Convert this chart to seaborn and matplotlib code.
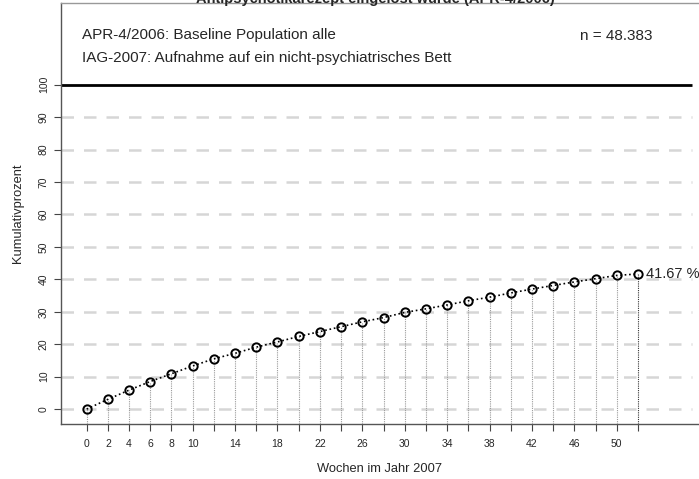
import matplotlib
matplotlib.use("Agg")
import matplotlib.pyplot as plt
import seaborn as sns
import numpy as np
import pandas as pd

weeks = [0, 2, 4, 6, 8, 10, 12, 14, 16, 18, 20, 22, 24, 26, 28, 30, 32, 34, 36,
         38, 40, 42, 44, 46, 48, 50, 52]
cum_pct = [0.0, 3.0, 5.85, 8.5, 10.9, 13.3, 15.5, 17.2, 19.1, 20.7, 22.4, 23.9,
           25.4, 26.9, 28.2, 29.8, 30.9, 32.1, 33.4, 34.5, 35.8, 37.0, 38.1,
           39.2, 40.2, 41.2, 41.67]
x_tick_labels = ["0", "2", "4", "6", "8", "10", "", "14", "", "18", "", "22", "",
                 "26", "", "30", "", "34", "", "38", "", "42", "", "46", "", "50", ""]
y_ticks = [0, 10, 20, 30, 40, 50, 60, 70, 80, 90, 100]
title = "Antipsychotikarezept eingelöst wurde (APR-4/2006)"
info_line1 = "APR-4/2006: Baseline Population alle"
info_line2 = "IAG-2007: Aufnahme auf ein nicht-psychiatrisches Bett"
n_text = "n = 48.383"
end_label = "41.67 %"
x_label = "Wochen im Jahr 2007"
y_label = "Kumulativprozent"

sns.set_style("white")
plt.rcParams["font.family"] = ["Liberation Sans", "DejaVu Sans"]

df = pd.DataFrame({"week": weeks, "pct": cum_pct})

fig = plt.figure(figsize=(6.99, 4.79), dpi=100)
ax = fig.add_axes([60.7 / 699, (479 - 424) / 479, (699 - 60.7) / 699, (424 - 3) / 479])

x0, x1 = -2.45, 57.76
y0, y1 = -4.6, 125.2
ax.set_xlim(x0, x1)
ax.set_ylim(y0, y1)

# dashed grey reference lines
for yv in y_ticks[:-1]:
    ax.plot([x0, 57.1], [yv, yv], color="#d6d6d6", lw=1.8, ls=(0, (5, 4)), zorder=1)
# thick line at 100
ax.plot([x0, 57.1], [100, 100], color="black", lw=2.0, zorder=2, solid_capstyle="butt")

# vertical dotted drop lines
for i, (w, p) in enumerate(zip(weeks, cum_pct)):
    col = "#333333" if i == len(weeks) - 1 else "#9a9a9a"
    ax.plot([w, w], [y0, p], color=col, lw=0.8, ls=(0, (1, 1)), zorder=2)

sns.lineplot(data=df, x="week", y="pct", ax=ax, color="black", linestyle=":",
             lw=1.2, marker="o", markersize=6, markerfacecolor="none",
             markeredgecolor="black", markeredgewidth=1.4, zorder=4)

ax.text(weeks[-1] + 0.8, cum_pct[-1], end_label, fontsize=10.5, va="center",
        ha="left", color="#222222", clip_on=False)

ax.set_xticks(weeks)
ax.set_xticklabels(x_tick_labels, fontsize=7.5)
ax.set_yticks(y_ticks)
ax.set_yticklabels([str(v) for v in y_ticks], fontsize=7.5, rotation=90, va="center")
ax.tick_params(axis="both", direction="out", length=5, width=0.8, color="#444444",
               left=True, bottom=True)
ax.tick_params(axis="x", pad=6)
ax.tick_params(axis="y", pad=3.5)

ax.set_xlabel(x_label, fontsize=9.3, labelpad=10)
ax.set_ylabel(y_label, fontsize=9.3, labelpad=11)

for s in ["left", "bottom"]:
    ax.spines[s].set_color("#555555")
    ax.spines[s].set_linewidth(1.0)
ax.spines["top"].set_color("#999999")
ax.spines["top"].set_linewidth(1.0)
ax.spines["right"].set_visible(False)

fig.text(82 / 699, 1 - 35 / 479, info_line1, fontsize=11, va="center", ha="left")
fig.text(82 / 699, 1 - 58 / 479, info_line2, fontsize=11, va="center", ha="left")
fig.text(652 / 699, 1 - 36 / 479, n_text, fontsize=11, va="center", ha="right")
fig.text(375 / 699, 1 - 2.5 / 479, title, fontsize=10.5, fontweight="bold",
         va="baseline", ha="center")

fig.savefig("out.png", dpi=100)
